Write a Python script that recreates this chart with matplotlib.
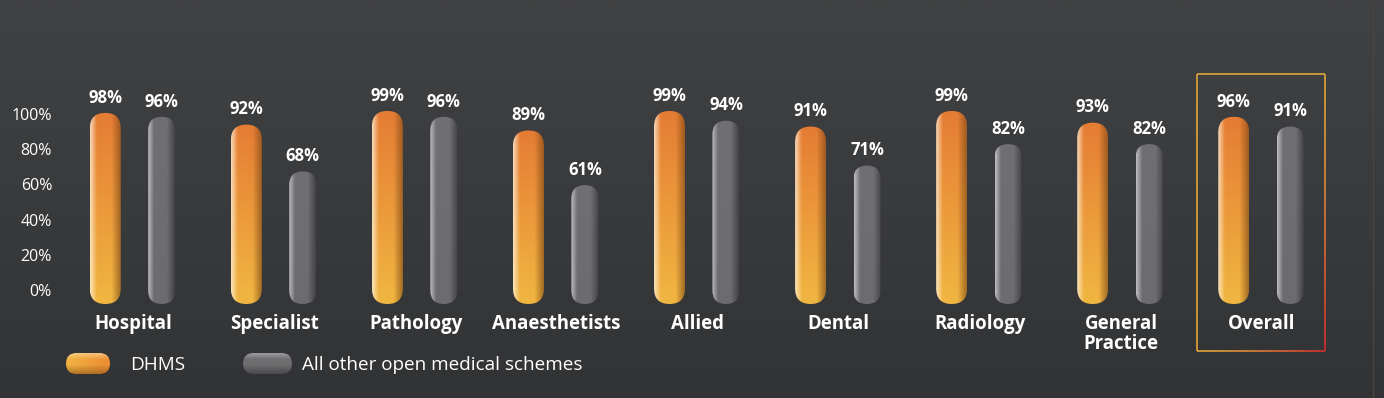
import numpy as np
import matplotlib
matplotlib.use("Agg")
import matplotlib.pyplot as plt
from matplotlib.patches import FancyBboxPatch
from matplotlib.collections import LineCollection

categories = ["Hospital", "Specialist", "Pathology", "Anaesthetists", "Allied",
              "Dental", "Radiology", "General\nPractice", "Overall"]
dhms = [98, 92, 99, 89, 99, 91, 99, 93, 96]
others = [96, 68, 96, 61, 94, 71, 82, 82, 91]
series_names = ["DHMS", "All other open medical schemes"]
tick_labels = ["0%", "20%", "40%", "60%", "80%", "100%"]

plt.rcParams["font.family"] = ["Open Sans", "DejaVu Sans"]

W, H = 1384, 398
fig = plt.figure(figsize=(W / 100, H / 100), dpi=100)
ax = fig.add_axes([0, 0, 1, 1])

# pixel -> data helpers (group spacing 141 px, 1.95 px per percent)
x0_px, dx_px = 133.5, 141.06
y0_px, dy_px = 304.0, 1.95
px2x = lambda p: (p - x0_px) / dx_px
px2y = lambda p: (y0_px - p) / dy_px
xlim = (px2x(0), px2x(W))
ylim = (px2y(H), px2y(0))
ax.set_xlim(*xlim)
ax.set_ylim(*ylim)
ax.set_axis_off()

# background gradient
bg = np.linspace([50, 51, 53], [65, 66, 67], 200)[:, None, :] / 255.0
ax.imshow(bg, extent=[*xlim, *ylim], origin="lower", aspect="auto", zorder=0)
ax.axvline(px2x(1373), color="#4a4540", lw=1, zorder=1)

aspect = dx_px / dy_px


def shade_img(top, bottom, light, dark, horizontal=False, n=64):
    t = np.linspace(0, 1, n)
    top, bottom = np.array(top) / 255, np.array(bottom) / 255
    light, dark = np.array(light) / 255, np.array(dark) / 255
    if horizontal:
        base = bottom[None, :] * (1 - t[:, None]) + top[None, :] * t[:, None]
        img = np.repeat(base[None, :, :], n, axis=0)
        u = t[:, None]  # vertical shading across the pill
        wl = np.clip(1 - u / 0.3, 0, 1)[::-1] * 0.5
        wd = np.clip((u - 0.55) / 0.45, 0, 1)[::-1] * 0.6
        img = img * (1 - wl[:, :, None]) + light * wl[:, :, None]
        img = img * (1 - wd[:, :, None]) + dark * wd[:, :, None]
        return img
    base = bottom[None, :] * (1 - t[:, None]) + top[None, :] * t[:, None]
    img = np.repeat(base[:, None, :], n, axis=1)
    u = t[None, :]
    wl = np.clip(1 - u / 0.22, 0, 1) * 0.75
    wd = np.clip((u - 0.7) / 0.3, 0, 1) * 0.65
    img = img * (1 - wl[:, :, None]) + light * wl[:, :, None]
    img = img * (1 - wd[:, :, None]) + dark * wd[:, :, None]
    return img


orange_img = shade_img((229, 124, 52), (241, 182, 66), (255, 245, 225), (120, 70, 20))
gray_img = shade_img((112, 112, 114), (108, 108, 110), (215, 215, 218), (45, 45, 47))


def pill(xc, y_bottom, y_top, w_px, img, z=3):
    w = w_px / dx_px
    r = w / 2
    p = FancyBboxPatch((xc - w / 2, y_bottom), w, y_top - y_bottom,
                       boxstyle=f"round,pad=0,rounding_size={r}",
                       mutation_aspect=aspect, fc="none", ec="none", zorder=z)
    ax.add_patch(p)
    im = ax.imshow(img, extent=[xc - w / 2, xc + w / 2, y_bottom, y_top],
                   origin="lower", aspect="auto", zorder=z, interpolation="bilinear")
    im.set_clip_path(p)


off = 28.2 / dx_px
label_kw = dict(color="white", fontsize=12, fontweight="bold", ha="center", va="center", zorder=5)
for i, (a, b) in enumerate(zip(dhms, others)):
    pill(i - off, 0, a, 31, orange_img)
    pill(i + off, 0, b, 27, gray_img)
    ax.text(i - off, a + 7.8, f"{a}%", **label_kw)
    ax.text(i + off, b + 7.8, f"{b}%", **label_kw)
    ax.text(i, px2y(314), categories[i], color="white", fontsize=13.4, fontweight="bold",
            ha="center", va="top", linespacing=0.98, zorder=5)

# y tick labels (decorative scale)
for pos, lab in zip(np.linspace(px2y(292), px2y(116), len(tick_labels)), tick_labels):
    ax.text(px2x(52), pos, lab, color="white", fontsize=11.5, ha="right", va="center", zorder=5)

# highlight box around "Overall"
bx0, bx1 = px2x(1197), px2x(1325)
by0, by1 = px2y(351), px2y(74)
pts = np.array([[bx0, by1], [bx1, by1], [bx1, by0], [bx0, by0], [bx0, by1]])
segs, cols = [], []
c_or = np.array([224, 165, 58]) / 255
c_red = np.array([214, 45, 45]) / 255
for k in range(4):
    p0, p1 = pts[k], pts[k + 1]
    for s in np.linspace(0, 1, 60)[:-1]:
        q0 = p0 + (p1 - p0) * s
        q1 = p0 + (p1 - p0) * (s + 1 / 59)
        m = (q0 + q1) / 2
        xn = (m[0] - bx0) / (bx1 - bx0)
        yn = (m[1] - by0) / (by1 - by0)
        t = np.clip(xn * (1 - yn), 0, 1) ** 1.5
        segs.append([q0, q1])
        cols.append(c_or * (1 - t) + c_red * t)
ax.add_collection(LineCollection(segs, colors=cols, linewidths=1.2, zorder=4))

# legend
leg_or = shade_img((236, 140, 50), (242, 180, 66), (255, 240, 200), (130, 80, 20), horizontal=True)
leg_gr = shade_img((110, 110, 112), (110, 110, 112), (200, 200, 203), (50, 50, 52), horizontal=True)


def hpill(x_left, x_right, y_b, y_t, img):
    w = x_right - x_left
    r = (y_t - y_b) / aspect / 2
    p = FancyBboxPatch((x_left, y_b), w, y_t - y_b,
                       boxstyle=f"round,pad=0,rounding_size={r}",
                       mutation_aspect=aspect, fc="none", ec="none", zorder=3)
    ax.add_patch(p)
    im = ax.imshow(img, extent=[x_left, x_right, y_b, y_t], origin="lower",
                   aspect="auto", zorder=3, interpolation="bilinear")
    im.set_clip_path(p)


hpill(px2x(66), px2x(110), px2y(374), px2y(353), leg_or)
hpill(px2x(243), px2x(292), px2y(374), px2y(353), leg_gr)
ax.text(px2x(130), px2y(365), series_names[0], color="white", fontsize=13.6, va="center", ha="left")
ax.text(px2x(302), px2y(365), series_names[1], color="white", fontsize=13.6, va="center", ha="left")

fig.savefig("out.png", dpi=100)
